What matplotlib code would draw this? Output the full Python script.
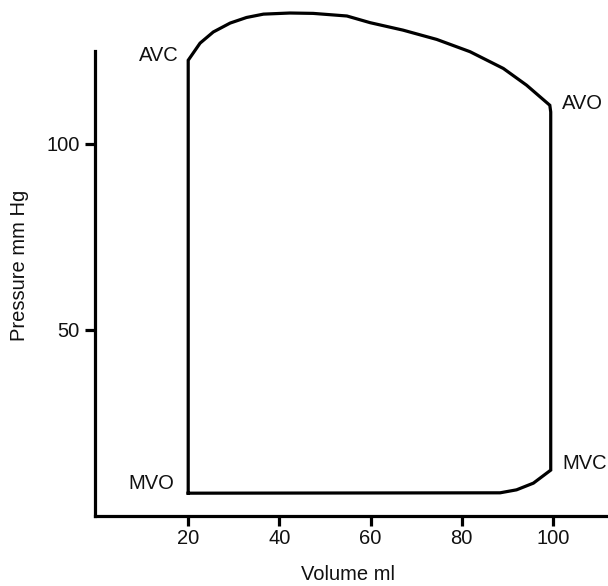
import matplotlib
matplotlib.use('Agg')
import matplotlib.pyplot as plt

# ── PV loop: volume (ml) / pressure (mm Hg) ─────────────
# left wall (isovolumic relaxation), top (ejection), right wall, bottom (filling)
volume = [20.0, 20.0, 22.6, 25.5, 29.2, 32.8, 36.5, 42.3, 47.4, 54.8, 59.9,
          67.1, 74.5, 81.8, 89.1, 94.2, 99.3, 99.5, 99.5, 95.7, 92.0, 88.4,
          20.0]
pressure = [6.0, 122.4, 127.0, 130.0, 132.4, 133.9, 134.8, 135.1, 135.0,
            134.3, 132.5, 130.5, 128.0, 124.7, 120.2, 115.7, 110.3, 108.5,
            12.2, 8.7, 6.9, 6.1, 6.0]

# valve events: label, volume, pressure
event_names = ['AVC', 'AVO', 'MVC', 'MVO']
event_vol   = [18.0, 102.0, 102.0, 17.0]
event_pres  = [123.8, 110.8, 14.0, 8.7]
event_align = ['right', 'left', 'left', 'right']

xticks = [20, 40, 60, 80, 100]
yticks = [50, 100]

W, H = 608, 586
FS = 14.5
LW = 2.3

plt.rcParams['font.family'] = ['Liberation Sans', 'DejaVu Sans']

fig = plt.figure(figsize=(W / 100, H / 100), dpi=100)
fig.patch.set_facecolor('white')

# axes placed so that pixel mapping matches the reference
ax = fig.add_axes([95 / W, (H - 515.5) / H, (W - 95) / W, 515.5 / H])
ax.set_xlim(-0.44, 112.06)
ax.set_ylim(0, 138.6)

ax.plot(volume, pressure, color='black', lw=LW, solid_joinstyle='miter',
        clip_on=False)

for name, v, p, ha in zip(event_names, event_vol, event_pres, event_align):
    ax.text(v, p, name, ha=ha, va='center', fontsize=FS, color='#111111')

# ── axes styling ─────────────────────────────────────────
for s in ['top', 'right']:
    ax.spines[s].set_visible(False)
for s in ['left', 'bottom']:
    ax.spines[s].set_linewidth(LW)
ax.spines['left'].set_bounds(0, 125)

ax.set_xticks(xticks)
ax.set_yticks(yticks)
ax.tick_params(direction='out', length=7, width=LW, labelsize=FS,
               color='black', labelcolor='#111111')
ax.tick_params(axis='x', pad=3)
ax.tick_params(axis='y', pad=4)

fig.text(348 / W, 1 - 575 / H, 'Volume ml', ha='center', va='center',
         fontsize=FS, color='#111111')
fig.text(20 / W, 1 - 265 / H, 'Pressure mm Hg', ha='center', va='center',
         rotation=90, fontsize=FS, color='#111111')

fig.savefig('out.png', dpi=100, facecolor='white')
